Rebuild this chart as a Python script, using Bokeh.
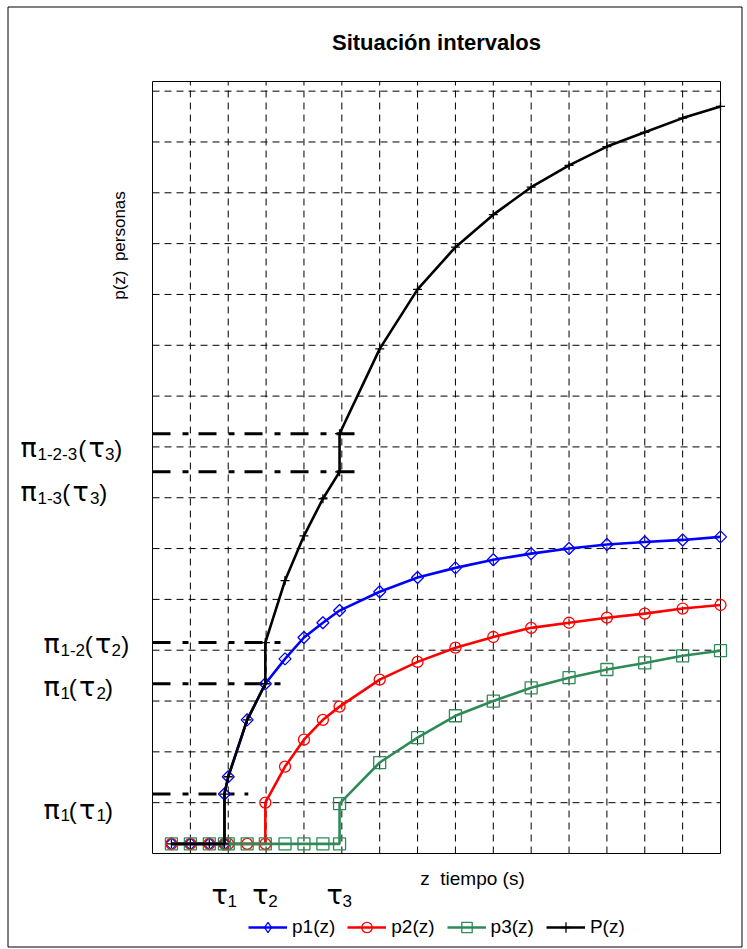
import numpy as np
from bokeh.plotting import figure
from bokeh.models import Label, Legend, LegendItem
from bokeh.embed import file_html
from bokeh.resources import INLINE

# ---------------- data (x and y in grid units of the original chart) ----------------
tau = [1.9, 2.98, 4.94]
tau_names = ["1", "2", "3"]

z_p1 = [0.5, 1.0, 1.5, 1.9, 1.9, 2.0, 2.5, 2.98, 3.5, 4.0, 4.5, 4.94,
        6, 7, 8, 9, 10, 11, 12, 13, 14, 15]
p1 = [0, 0, 0, 0, 0.98, 1.32, 2.44, 3.15, 3.64, 4.06, 4.35, 4.59,
      4.96, 5.24, 5.43, 5.59, 5.71, 5.81, 5.89, 5.94, 5.98, 6.04]

z_p2 = [0.5, 1.0, 1.5, 1.9, 2.0, 2.5, 2.98, 2.98, 3.5, 4.0, 4.5, 4.94,
        6, 7, 8, 9, 10, 11, 12, 13, 14, 15]
p2 = [0, 0, 0, 0, 0, 0, 0, 0.81, 1.52, 2.05, 2.44, 2.70,
      3.23, 3.58, 3.86, 4.07, 4.25, 4.35, 4.45, 4.53, 4.63, 4.70]

z_p3 = [0.5, 1.0, 1.5, 1.9, 2.0, 2.5, 2.98, 3.5, 4.0, 4.5, 4.94, 4.94,
        6, 7, 8, 9, 10, 11, 12, 13, 14, 15]
p3 = [0, 0, 0, 0, 0, 0, 0, 0, 0, 0, 0, 0.79,
      1.60, 2.09, 2.52, 2.81, 3.07, 3.27, 3.43, 3.56, 3.70, 3.80]

z_P = [0.5, 1.0, 1.5, 1.9, 1.9, 2.0, 2.5, 2.98, 2.98, 3.5, 4.0, 4.5, 4.94, 4.94,
       6, 7, 8, 9, 10, 11, 12, 13, 14, 15]
P = [0, 0, 0, 0, 0.98, 1.32, 2.44, 3.15, 3.96, 5.18, 6.06, 6.79, 7.32, 8.07,
     9.74, 10.91, 11.74, 12.38, 12.92, 13.35, 13.72, 14.0, 14.28, 14.51]

# reference levels pi(...) and the x where their dash-dot guide ends
pi_levels = [0.98, 3.15, 3.96, 7.32, 8.07]
pi_ends = [2.53, 3.38, 3.38, 5.44, 5.44]

legend_labels = ["p1(z)", "p2(z)", "p3(z)", "P(z)"]

# axis limits and grid ticks
X0, X1 = 0, 15
Y0, Y1 = -0.19, 15.0
x_ticks = list(range(1, 15))
y_ticks = [Y0 + k for k in range(1, 16)]

# ---------------- layout (pixels) ----------------
W, H = 746, 948
PX_L, PX_R, PX_T, PX_B = 152, 720, 81, 853
ux = (PX_R - PX_L) / (X1 - X0)
uy = (PX_B - PX_T) / (Y1 - Y0)


def px_x(px):
    return X0 + (px - PX_L) / ux


def px_y(py):
    return Y0 + (PX_B - py) / uy


p = figure(width=W, height=H,
           x_range=(px_x(0), px_x(W)), y_range=(px_y(H), px_y(0)),
           output_backend="svg", toolbar_location=None,
           x_axis_location=None, y_axis_location=None, title_location=None,
           min_border=0, min_border_left=0, min_border_right=0,
           min_border_top=0, min_border_bottom=0,
           background_fill_color="white", border_fill_color="white")
p.outline_line_color = None
p.grid.visible = False

# outer border of the picture
p.quad(left=px_x(7.5), right=px_x(741.5), top=px_y(6.5), bottom=px_y(946.5),
       fill_color=None, line_color="black", line_width=1)

# dashed grid
grid_kw = dict(line_color="black", line_width=1, line_dash="7 5", line_alpha=1.0)
p.segment(x0=x_ticks, y0=[Y0] * len(x_ticks), x1=x_ticks, y1=[Y1] * len(x_ticks), **grid_kw)
p.segment(x0=[X0] * len(y_ticks), y0=y_ticks, x1=[X1] * len(y_ticks), y1=y_ticks, **grid_kw)

# axes box
p.quad(left=X0, right=X1, bottom=Y0, top=Y1, fill_color=None,
       line_color="black", line_width=1)

# dash-dot guides
p.segment(x0=[X0] * len(pi_levels), y0=pi_levels, x1=pi_ends, y1=pi_levels,
          line_color="black", line_width=3, line_dash="18 12 6 10")

# series
lw = 2.6
r1l = p.line(z_p1, p1, line_color="#0000ff", line_width=lw)
r1m = p.scatter(z_p1, p1, marker="square", angle=np.pi / 4, size=8.5,
                line_color="#0000ff", fill_color=None, line_width=1.3)
r1k = p.scatter(z_p1, p1, marker="diamond", size=12,
                line_color="#0000ff", fill_color=None, line_width=1.3, visible=False)
r2l = p.line(z_p2, p2, line_color="#ff0000", line_width=lw)
r2m = p.scatter(z_p2, p2, marker="circle", size=11,
                line_color="#ff0000", fill_color=None, line_width=1.3)
r3l = p.line(z_p3, p3, line_color="#2e8b57", line_width=lw)
r3m = p.scatter(z_p3, p3, marker="square", size=12,
                line_color="#2e8b57", fill_color=None, line_width=1.3)
r4l = p.line(z_P, P, line_color="black", line_width=lw)
r4m = p.scatter(z_P, P, marker="cross", size=9,
                line_color="black", line_width=1.3)

legend = Legend(items=[
    LegendItem(label=legend_labels[0], renderers=[r1l, r1k]),
    LegendItem(label=legend_labels[1], renderers=[r2l, r2m]),
    LegendItem(label=legend_labels[2], renderers=[r3l, r3m]),
    LegendItem(label=legend_labels[3], renderers=[r4l, r4m]),
], orientation="horizontal", location=(248, H - 940))
legend.glyph_width = 39
legend.glyph_height = 26
legend.label_standoff = 5
legend.spacing = 12
legend.padding = 3
legend.margin = 0
legend.border_line_color = None
legend.background_fill_alpha = 0
legend.inactive_fill_alpha = 0
legend.label_text_font = "Liberation Sans"
legend.label_text_font_size = "19px"
legend.label_text_color = "black"
p.add_layout(legend, "center")

SANS = "Liberation Sans"
GREEK = "DejaVu Sans"
LIFT = 0.33  # em correction for alphabetic baseline placement

# title, axis labels
p.add_layout(Label(x=(X0 + X1) / 2, y=Y1, y_offset=32 + LIFT * 22, text="Situación intervalos",
                   text_align="center", text_baseline="alphabetic", text_color="black",
                   text_font=SANS, text_font_style="bold", text_font_size="22px"))
p.add_layout(Label(x=X0, y=px_y(245), x_offset=-33, text="p(z)\u00a0\u00a0personas",
                   angle=np.pi / 2, text_align="center", text_baseline="middle",
                   text_color="black", text_font=SANS, text_font_size="17px"))
p.add_layout(Label(x=px_x(472), y=Y0, y_offset=-25, text="z\u00a0\u00a0tiempo (s)",
                   text_align="center", text_baseline="middle", text_color="black",
                   text_font=SANS, text_font_size="19px"))

STYLE = {"g": (GREEK, 27), "p": (SANS, 24), "s": (SANS, 17)}
SUB_DROP = 3


def piece(x, y, dx, dy, text, kind):
    font, size = STYLE[kind]
    p.add_layout(Label(x=x, y=y, x_offset=dx, y_offset=dy + LIFT * size, text=text,
                       text_align="left", text_baseline="alphabetic",
                       text_font=font, text_font_size=f"{size}px", text_color="black"))


# pi labels: (level index, left px from axes box, baseline px below level, pieces)
pi_specs = [
    (4, -132.0, -23, [("π", 0, "g"), ("1-2-3", 17.0, "s"), ("(", 57.8, "p"), ("τ", 68.0, "g"), ("3", 84.5, "s"), (")", 93.8, "p")]),
    (3, -132.0, -29, [("π", 0, "g"), ("1-3", 17.0, "s"), ("(", 41.8, "p"), ("τ", 52.0, "g"), ("3", 69.5, "s"), (")", 78.8, "p")]),
    (2, -109.0, -10, [("π", 0, "g"), ("1-2", 17.0, "s"), ("(", 41.2, "p"), ("τ", 51.4, "g"), ("2", 68.0, "s"), (")", 77.8, "p")]),
    (1, -109.0, -12, [("π", 0, "g"), ("1", 17.0, "s"), ("(", 25.2, "p"), ("τ", 35.4, "g"), ("2", 53.0, "s"), (")", 61.5, "p")]),
    (0, -109.0, -24, [("π", 0, "g"), ("1", 17.0, "s"), ("(", 25.2, "p"), ("τ", 35.4, "g"), ("1", 53.0, "s"), (")", 61.5, "p")]),
]
for idx, x0, below, parts in pi_specs:
    for text, dx, kind in parts:
        dy = below - (SUB_DROP if kind == "s" else 0)
        piece(X0, pi_levels[idx], x0 + dx, dy, text, kind)

# tau labels under the axes box
for t, n in zip(tau, tau_names):
    piece(t, Y0, -13, -50, "τ", "g")
    piece(t, Y0, 3, -50 - SUB_DROP, n, "s")

open("out.html", "w").write(file_html(p, INLINE))
